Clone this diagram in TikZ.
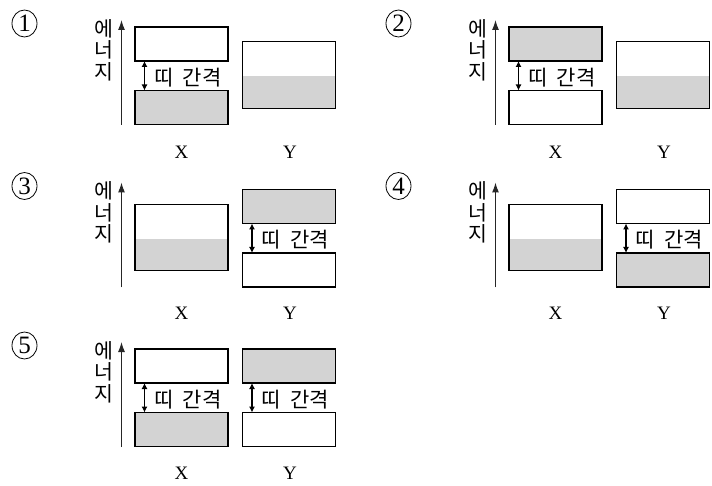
\documentclass[tikz,border=0pt]{standalone}
\usepackage{fontspec}
\setmainfont{Liberation Serif}
\newfontfamily\kr{Noto Sans CJK KR}
\usetikzlibrary{arrows.meta,shapes.geometric}
\definecolor{bandgray}{RGB}{211,211,211}
\tikzset{
  x=1pt, y=-1pt,
  band/.style={draw=black, line width=1.15pt, minimum width=93pt, minimum height=34pt,
    inner sep=0pt, outer sep=0pt},
  fullband/.style={band, fill=bandgray},
  emptyband/.style={band, fill=white},
  metalband/.style={band, minimum height=66.5pt, fill=white,
    path picture={\fill[bandgray] (path picture bounding box.south west)
      rectangle ([yshift=-1.5pt]path picture bounding box.east);}},
  gaparrow/.style={line width=1.1pt, {Latex[length=6pt,width=6pt]}-{Latex[length=6pt,width=6pt]}},
  energyaxis/.style={line width=1.2pt, draw=black!85, -{Latex[length=10pt,width=7pt]}},
  gaplabel/.style={font=\kr\fontsize{21}{21}\selectfont, inner sep=0pt, anchor=west},
  axislabel/.style={font=\kr\fontsize{20.5}{21.5}\selectfont, align=center, inner sep=0pt},
  matlabel/.style={font=\fontsize{19}{19}\selectfont, inner sep=0pt},
  numcirc/.style={ellipse, draw, line width=0.8pt, minimum width=25pt, minimum height=27pt,
    inner sep=0pt, font=\fontsize{25}{25}\selectfont},
}
% energy axis with its label: #1 name, #2 x offset, #3 y offset
\newcommand\energyaxis[3]{%
  \coordinate (#1base) at (#2+121.5, #3+125);
  \coordinate (#1tip) at (#2+121.5, #3+20);
  \draw[energyaxis] (#1base) -- (#1tip);
  \node[axislabel] (#1lab) at (#2+104, #3+50) {에\\너\\지};
}
% two bands separated by a band gap: #1 name, #2 column centre x, #3 y offset,
% #4 style of the upper band, #5 style of the lower band
\newcommand\gapcolumn[5]{%
  \node[#4] (#1top) at (#2, #3+44) {};
  \node[#5] (#1bot) at (#2, #3+107.5) {};
  \draw[gaparrow] ([xshift=9.5pt]#1top.south west) -- ([xshift=9.5pt]#1bot.north west);
  \node[gaplabel] (#1gap) at (#2-27.5, #3+77.5) {띠\hspace{0.45em}간격};
}
% one partly filled band: #1 name, #2 column centre x, #3 y offset
\newcommand\metalcolumn[3]{%
  \node[metalband] (#1band) at (#2, #3+75) {};
}
% material names under the two columns: #1 name, #2 x offset, #3 y offset
\newcommand\matnames[3]{%
  \node[matlabel] (#1X) at (#2+181.5, #3+152) {X};
  \node[matlabel] (#1Y) at (#2+290, #3+152) {Y};
}
\begin{document}
\begin{tikzpicture}
  \useasboundingbox (0,0) rectangle (712,486);

  % choice 1
  \node[numcirc] (n1) at (24.5,23.5) {1};
  \energyaxis{a1}{0}{0}
  \gapcolumn{a1x}{181.5}{0}{emptyband}{fullband}
  \metalcolumn{a1y}{289}{0}
  \matnames{a1}{0}{0}

  % choice 2
  \node[numcirc] (n2) at (398.5,23.5) {2};
  \energyaxis{a2}{374}{0}
  \gapcolumn{a2x}{555.5}{0}{fullband}{emptyband}
  \metalcolumn{a2y}{663}{0}
  \matnames{a2}{374}{0}

  % choice 3
  \node[numcirc] (n3) at (24.5,186) {3};
  \energyaxis{a3}{0}{162.5}
  \metalcolumn{a3x}{181.5}{162.5}
  \gapcolumn{a3y}{289}{162.5}{fullband}{emptyband}
  \matnames{a3}{0}{161}

  % choice 4
  \node[numcirc] (n4) at (398.5,186) {4};
  \energyaxis{a4}{374}{162.5}
  \metalcolumn{a4x}{555.5}{162.5}
  \gapcolumn{a4y}{663}{162.5}{emptyband}{fullband}
  \matnames{a4}{374}{161}

  % choice 5
  \node[numcirc] (n5) at (24.5,345.5) {5};
  \energyaxis{a5}{0}{322}
  \gapcolumn{a5x}{181.5}{322}{emptyband}{fullband}
  \gapcolumn{a5y}{289}{322}{fullband}{emptyband}
  \matnames{a5}{0}{321}
\end{tikzpicture}
\end{document}
